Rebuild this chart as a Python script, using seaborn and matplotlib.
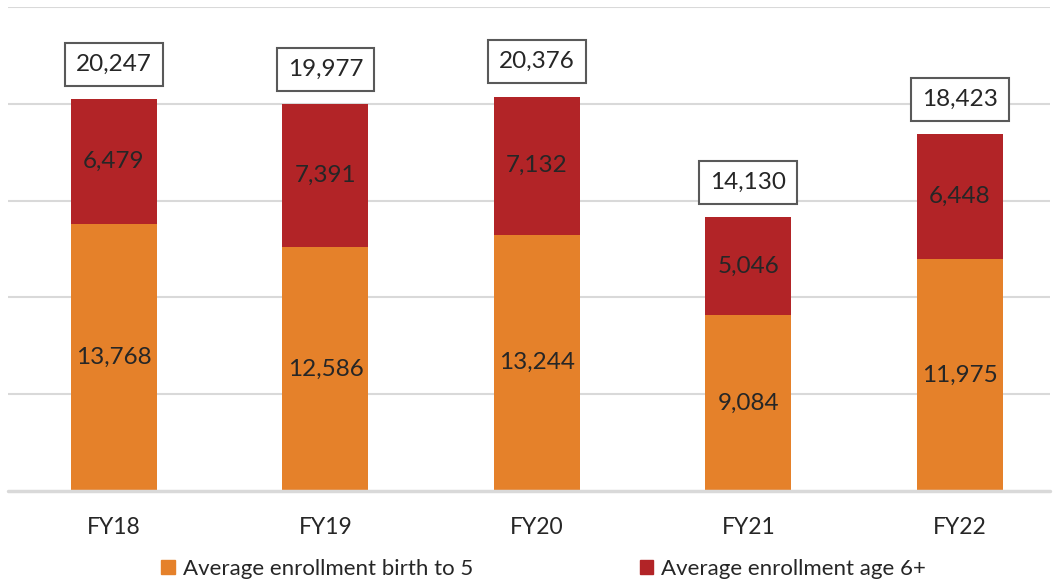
import matplotlib
matplotlib.use("Agg")
import matplotlib.pyplot as plt
import seaborn as sns
import pandas as pd
from matplotlib.patches import Patch

years = ["FY18", "FY19", "FY20", "FY21", "FY22"]
birth_to_5 = [13768, 12586, 13244, 9084, 11975]
age_6_plus = [6479, 7391, 7132, 5046, 6448]
totals = [20247, 19977, 20376, 14130, 18423]

orange = "#E5812A"
red = "#B22427"
text_c = "#262626"

sns.set_theme(style="white")
plt.rcParams['font.family'] = ['Lato', 'DejaVu Sans']

df = pd.DataFrame({"year": years, "b5": birth_to_5, "a6": age_6_plus, "total": totals})

fig = plt.figure(figsize=(10.56, 5.84), dpi=100)
ax = fig.add_axes([8/1056, 1 - 491/584, 1042/1056, 484/584])

sns.barplot(data=df, x="year", y="total", color=red, width=0.407, saturation=1, ax=ax,
            zorder=2, linewidth=0, edgecolor="none")
sns.barplot(data=df, x="year", y="b5", color=orange, width=0.407, saturation=1, ax=ax,
            zorder=3, linewidth=0, edgecolor="none")

ax.set_ylim(0, 25000)
ax.set_xlim(-0.501, 4.426)
for y in [5000, 10000, 15000, 20000, 25000]:
    ax.axhline(y, color="#D9D9D9", lw=1.5, zorder=0)
ax.axhline(0, color="#D9D9D9", lw=2.5, zorder=4, clip_on=False)
for s in ax.spines.values():
    s.set_visible(False)
ax.set_yticks([])
ax.set_xlabel("")
ax.set_ylabel("")
ax.tick_params(axis="x", length=0, pad=19, labelsize=16.5, labelcolor=text_c)

for i in range(len(years)):
    ax.text(i, birth_to_5[i] / 2, f"{birth_to_5[i]:,}", ha="center", va="center",
            fontsize=17.5, color=text_c, zorder=5)
    ax.text(i, birth_to_5[i] + age_6_plus[i] / 2, f"{age_6_plus[i]:,}", ha="center", va="center",
            fontsize=17.5, color=text_c, zorder=5)
    ax.annotate(f"{totals[i]:,}", xy=(i, totals[i]), xytext=(0, 25), textcoords="offset points",
                ha="center", va="center", fontsize=17.5, color=text_c, zorder=5,
                bbox=dict(boxstyle="square,pad=0.45", fc="white", ec="#595959", lw=1.5))

handles = [Patch(color=orange, label="Average enrollment birth to 5"),
           Patch(color=red, label="Average enrollment age 6+")]
fig.legend(handles=handles, loc="center", bbox_to_anchor=(543.5/1056, 1 - 569/584), ncol=2,
           frameon=False, fontsize=16, handlelength=0.6, handleheight=0.6,
           handletextpad=0.35, columnspacing=7.5, labelcolor=text_c)

fig.savefig("out.png", dpi=100)
